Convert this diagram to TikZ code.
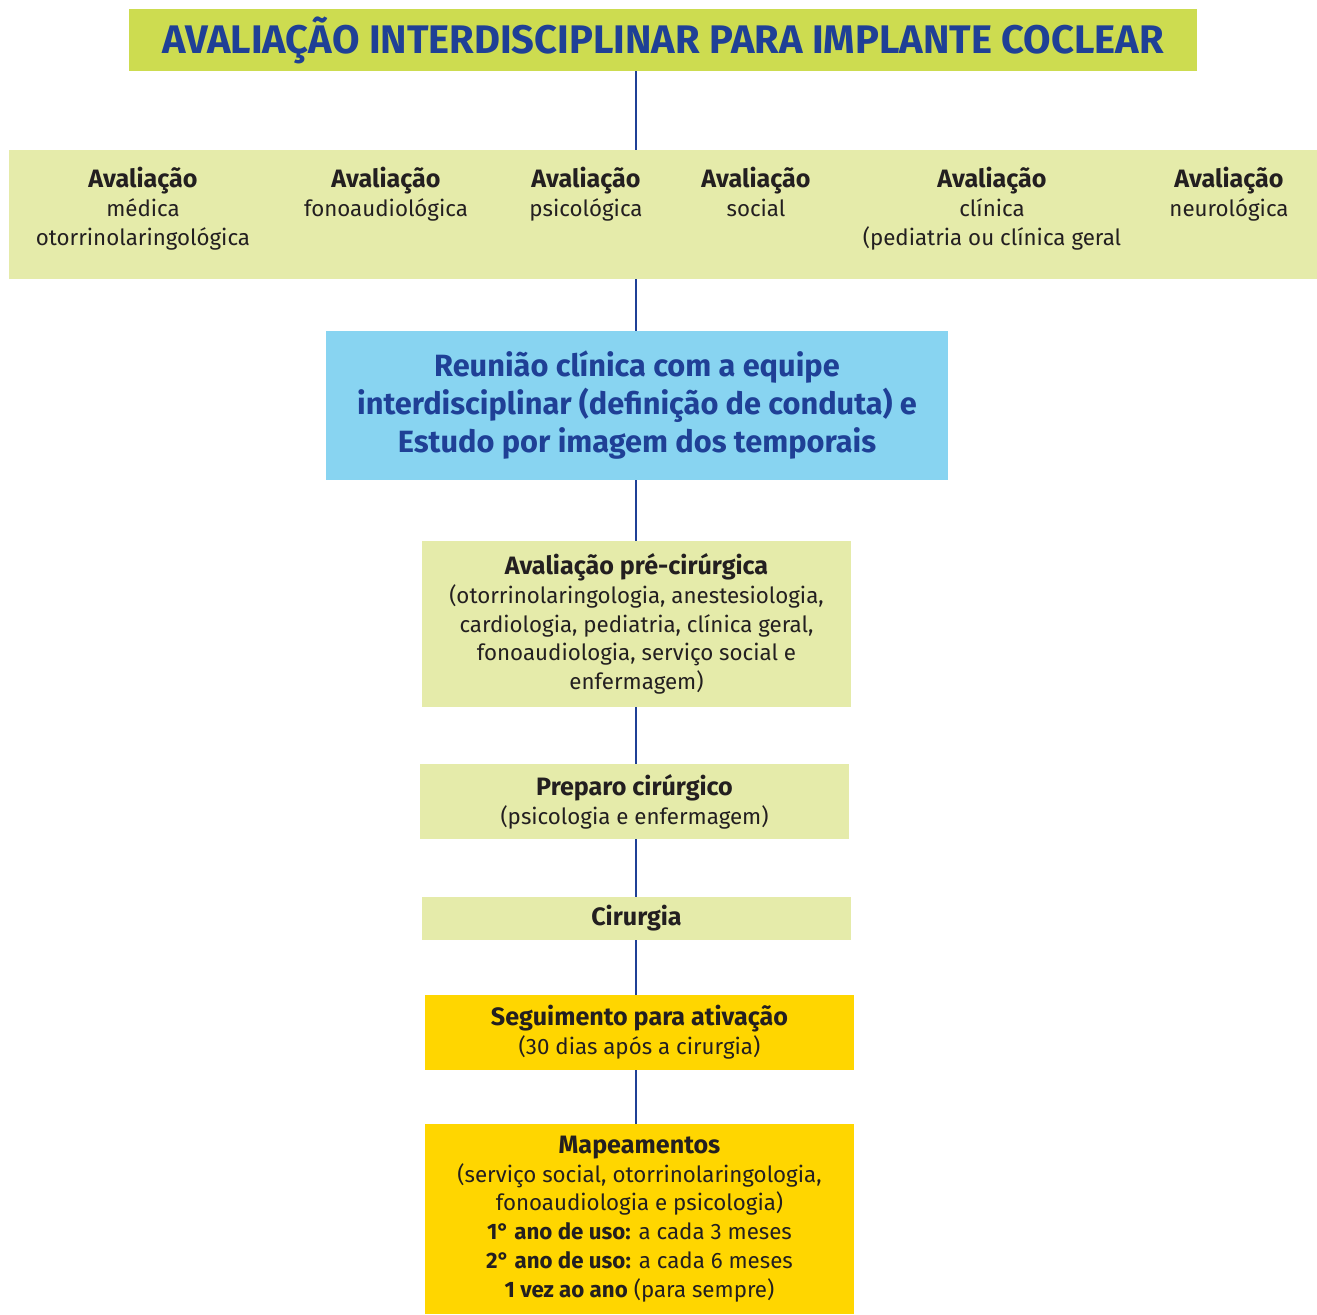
\documentclass[tikz,border=0pt]{standalone}
\usepackage{fontspec}
\setmainfont{Fira Sans}
\usepackage{xcolor}
\usepackage{tikz}
\definecolor{titlegreen}{HTML}{CDDC50}
\definecolor{palegreen}{HTML}{E5EBAA}
\definecolor{skyblue}{HTML}{88D4F1}
\definecolor{goldbox}{HTML}{FFD600}
\definecolor{navy}{HTML}{1F4096}
\definecolor{ink}{HTML}{231F20}
\newcommand{\boxhead}[1]{{\fontsize{14.3}{16.4}\selectfont\bfseries #1}}

\begin{document}
\begin{tikzpicture}[x=0.02cm,y=-0.02cm,
        box/.style={fill=#1,inner sep=0pt,align=center,text=ink,font=\fontsize{12.7}{16.4}\selectfont},
        evtext/.style={anchor=north,inner sep=0pt,align=center,text=ink,font=\fontsize{12.7}{16.4}\selectfont},
        link/.style={navy,line width=1.2pt}]
        \useasboundingbox (0,0) rectangle (1317,1314);

        \node[fill=titlegreen,minimum width=21.36cm,minimum height=1.24cm,inner sep=0pt,text=navy,font=\fontsize{22.7}{26}\selectfont\bfseries] (title) at (663,40){AVALIAÇÃO INTERDISCIPLINAR PARA IMPLANTE COCLEAR};

        \node[box=palegreen,minimum width=26.16cm,minimum height=2.58cm] (evals) at (663,214.5){};
        \node[evtext] (ev1) at (143,167){\boxhead{Avaliação}\\médica\\otorrinolaringológica};
        \node[evtext] (ev2) at (386,167){\boxhead{Avaliação}\\fonoaudiológica};
        \node[evtext] (ev3) at (586,167){\boxhead{Avaliação}\\psicológica};
        \node[evtext] (ev4) at (756,167){\boxhead{Avaliação}\\social};
        \node[evtext] (ev5) at (992,167){\boxhead{Avaliação}\\clínica\\(pediatria ou clínica geral};
        \node[evtext] (ev6) at (1229,167){\boxhead{Avaliação}\\neurológica};

        \node[box=skyblue,minimum width=12.44cm,minimum height=2.98cm,text=navy,font=\fontsize{17.5}{21.6}\selectfont\bfseries] (reuniao) at (637,405.5){Reunião clínica com a equipe\\interdisciplinar (definição de conduta) e\\Estudo por imagem dos temporais};

        \node[box=palegreen,minimum width=8.58cm,minimum height=3.32cm] (pre) at (636.5,624){\boxhead{Avaliação pré-cirúrgica}\\(otorrinolaringologia, anestesiologia,\\cardiologia, pediatria, clínica geral,\\fonoaudiologia, serviço social e\\enfermagem)};
        \node[box=palegreen,minimum width=8.58cm,minimum height=1.5cm] (preparo) at (634.5,801.5){\boxhead{Preparo cirúrgico}\\(psicologia e enfermagem)};
        \node[box=palegreen,minimum width=8.58cm,minimum height=0.86cm] (cirurgia) at (636.5,918.5){\boxhead{Cirurgia}};
        \node[box=goldbox,minimum width=8.58cm,minimum height=1.5cm] (seguimento) at (639.5,1032.5){\boxhead{Seguimento para ativação}\\(30 dias após a cirurgia)};
        \node[box=goldbox,minimum width=8.58cm,minimum height=3.8cm] (mapa) at (639.5,1219){\boxhead{Mapeamentos}\\(serviço social, otorrinolaringologia,\\fonoaudiologia e psicologia)\\\textbf{1° ano de uso:} a cada 3 meses\\\textbf{2° ano de uso:} a cada 6 meses\\\textbf{1 vez ao ano} (para sempre)};

        \coordinate (spine) at (636,0);
        \foreach \a/\b in {title/evals,evals/reuniao,reuniao/pre,pre/preparo,preparo/cirurgia,cirurgia/seguimento,seguimento/mapa}
            \draw[link] (spine |- \a.south) -- (spine |- \b.north);
    \end{tikzpicture}
\end{document}
